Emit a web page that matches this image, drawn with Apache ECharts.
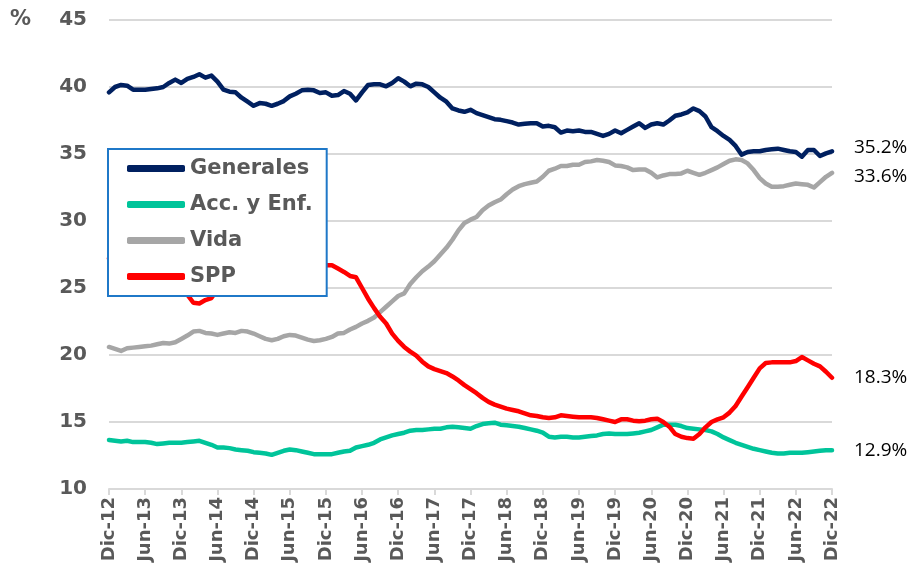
<!DOCTYPE html>
<html>
<head>
<meta charset="utf-8">
<script src="https://cdn.jsdelivr.net/npm/echarts@6/dist/echarts.min.js"></script>
<style>
  html, body { margin: 0; padding: 0; background: #fff; }
  #chart { width: 920px; height: 584px; }
</style>
</head>
<body>
<div id="chart"></div>
<script>
// meses dic-12 .. dic-22
var mesesNombre = ['Ene', 'Feb', 'Mar', 'Abr', 'May', 'Jun', 'Jul', 'Ago', 'Sep', 'Oct', 'Nov', 'Dic']
var yTicks = [10, 15, 20, 25, 30, 35, 40, 45]

var generales = [
  39.6, 40.0, 40.15, 40.1, 39.8, 39.8, 39.8, 39.85, 39.9, 40.0,
  40.3, 40.55, 40.3, 40.6, 40.75, 40.95, 40.7, 40.85, 40.4, 39.8,
  39.65, 39.6, 39.2, 38.9, 38.6, 38.8, 38.75, 38.6, 38.75, 38.95,
  39.3, 39.5, 39.75, 39.8, 39.75, 39.55, 39.6, 39.35, 39.4, 39.7,
  39.5, 39.0, 39.6, 40.15, 40.2, 40.2, 40.05, 40.3, 40.65, 40.4,
  40.05, 40.25, 40.2, 40.0, 39.6, 39.2, 38.9, 38.4, 38.25, 38.15,
  38.3, 38.05, 37.9, 37.75, 37.6, 37.55, 37.45, 37.35, 37.2, 37.25,
  37.3, 37.3, 37.05, 37.1, 37.0, 36.6, 36.75, 36.7, 36.75, 36.65,
  36.65, 36.5, 36.35, 36.5, 36.75, 36.55, 36.8, 37.05, 37.3, 36.95,
  37.2, 37.3, 37.2, 37.5, 37.85, 37.95, 38.1, 38.4, 38.2, 37.8,
  37.0, 36.7, 36.35, 36.05, 35.6, 34.95, 35.15, 35.2, 35.2, 35.3,
  35.35, 35.4, 35.3, 35.2, 35.15, 34.8, 35.3, 35.3, 34.85, 35.05,
  35.2
]
var accEnf = [
  13.65, 13.6, 13.55, 13.6, 13.5, 13.5, 13.5, 13.45, 13.35, 13.4,
  13.45, 13.45, 13.45, 13.5, 13.55, 13.6, 13.45, 13.3, 13.1, 13.1,
  13.05, 12.95, 12.9, 12.85, 12.75, 12.7, 12.65, 12.55, 12.7, 12.85,
  12.95, 12.9, 12.8, 12.7, 12.6, 12.6, 12.6, 12.6, 12.7, 12.8,
  12.85, 13.1, 13.2, 13.3, 13.45, 13.7, 13.85, 14.0, 14.1, 14.2,
  14.35, 14.4, 14.4, 14.45, 14.5, 14.5, 14.6, 14.65, 14.6, 14.55,
  14.5, 14.7, 14.85, 14.9, 14.95, 14.8, 14.75, 14.7, 14.65, 14.55,
  14.45, 14.35, 14.2, 13.9, 13.85, 13.9, 13.9, 13.85, 13.85, 13.9,
  13.95, 14.0, 14.1, 14.15, 14.1, 14.1, 14.1, 14.15, 14.2, 14.3,
  14.4, 14.6, 14.8, 14.8, 14.8, 14.7, 14.55, 14.5, 14.45, 14.4,
  14.3, 14.1, 13.85, 13.65, 13.45, 13.3, 13.15, 13.0, 12.9, 12.8,
  12.7, 12.65, 12.65, 12.7, 12.7, 12.7, 12.75, 12.8, 12.85, 12.9,
  12.9
]
var vida = [
  20.6, 20.45, 20.3, 20.5, 20.55, 20.6, 20.65, 20.7, 20.8, 20.9,
  20.85, 20.95, 21.2, 21.45, 21.75, 21.8, 21.65, 21.6, 21.5, 21.6,
  21.7, 21.65, 21.8, 21.75, 21.6, 21.4, 21.2, 21.1, 21.2, 21.4,
  21.5, 21.45, 21.3, 21.15, 21.05, 21.1, 21.2, 21.35, 21.6, 21.65,
  21.9, 22.1, 22.35, 22.55, 22.8, 23.2, 23.6, 24.0, 24.4, 24.6,
  25.3, 25.8, 26.25, 26.6, 27.0, 27.5, 28.0, 28.6, 29.3, 29.85,
  30.1, 30.3, 30.8, 31.15, 31.4, 31.6, 32.0, 32.35, 32.6, 32.75,
  32.85, 32.95, 33.3, 33.75, 33.9, 34.1, 34.1, 34.2, 34.2, 34.4,
  34.45, 34.55, 34.5, 34.4, 34.15, 34.1, 34.0, 33.8, 33.85, 33.85,
  33.6, 33.25, 33.4, 33.5, 33.5, 33.55, 33.75, 33.6, 33.45, 33.6,
  33.8, 34.0, 34.25, 34.5, 34.6, 34.55, 34.3, 33.8, 33.2, 32.8,
  32.55, 32.55, 32.6, 32.7, 32.8, 32.75, 32.7, 32.5, 32.9, 33.3,
  33.6
]
var spp = [
  27.2, 27.4, 27.5, 27.6, 27.4, 27.3, 27.1, 26.9, 26.6, 26.3,
  25.8, 25.3, 24.8, 24.5, 23.9, 23.85, 24.1, 24.25, 24.9, 25.5,
  26.0, 26.3, 26.5, 26.6, 26.7, 26.8, 26.8, 26.9, 26.9, 26.8,
  26.8, 26.7, 26.7, 26.7, 26.7, 26.7, 26.7, 26.7, 26.45, 26.2,
  25.9, 25.8, 25.0, 24.2, 23.5, 22.85, 22.35, 21.6, 21.05, 20.6,
  20.25, 19.95, 19.5, 19.15, 18.95, 18.8, 18.65, 18.4, 18.1, 17.75,
  17.45, 17.15, 16.8, 16.5, 16.3, 16.15, 16.0, 15.9, 15.8, 15.65,
  15.5, 15.45, 15.35, 15.3, 15.35, 15.5, 15.45, 15.4, 15.35, 15.35,
  15.35, 15.3, 15.2, 15.1, 15.0, 15.2, 15.2, 15.1, 15.05, 15.1,
  15.2, 15.25, 15.0, 14.65, 14.1, 13.9, 13.8, 13.75, 14.1, 14.6,
  15.0, 15.2, 15.35, 15.7, 16.2, 16.9, 17.6, 18.3, 19.0, 19.4,
  19.45, 19.45, 19.45, 19.45, 19.55, 19.85, 19.6, 19.35, 19.15, 18.75,
  18.3
]

var meses = []
for (var k = 0; k < generales.length; k++) {
  var m = (11 + k) % 12
  var y = 12 + Math.floor((11 + k) / 12)
  meses.push(mesesNombre[m] + '-' + y)
}

var chart = echarts.init(document.getElementById('chart'))

var fuerte = 'DejaVu Sans'

function serie(name, data, color, offsetY) {
  return {
    name: name,
    type: 'line',
    data: data,
    symbol: 'none',
    smooth: false,
    lineStyle: { width: 4.5, color: color, cap: 'round', join: 'round' },
    itemStyle: { color: color },
    endLabel: {
      show: true,
      formatter: function (p) { return p.value.toFixed(1) + '%' },
      color: '#000',
      fontSize: 19,
      fontFamily: 'Open Sans',
      distance: 22,
      offset: [0, offsetY]
    }
  }
}

var option = {
  animation: false,
  backgroundColor: '#fff',
  grid: { left: 109, right: 88, top: 20, bottom: 95 },
  graphic: [
    {
      type: 'text',
      left: 10,
      top: 9,
      style: { text: '%', font: 'bold 21px "DejaVu Sans"', fill: '#595959' }
    }
  ],
  legend: {
    orient: 'vertical',
    left: 108,
    top: 149,
    padding: [9, 14, 9, 19],
    itemGap: 15,
    itemWidth: 58,
    itemHeight: 7,
    icon: 'roundRect',
    backgroundColor: '#fff',
    borderColor: '#1f78c8',
    borderWidth: 2,
    borderRadius: 0,
    textStyle: { color: '#595959', fontSize: 21, fontWeight: 'bold', fontFamily: fuerte },
    data: ['Generales', 'Acc. y Enf.', 'Vida', 'SPP']
  },
  xAxis: {
    type: 'category',
    boundaryGap: false,
    data: meses,
    axisLine: { lineStyle: { color: '#d9d9d9', width: 2 } },
    axisTick: { show: true, interval: 5, length: 6, lineStyle: { color: '#d9d9d9', width: 2 } },
    axisLabel: {
      interval: 5,
      rotate: 90,
      color: '#595959',
      fontSize: 18,
      fontWeight: 'bold',
      fontFamily: fuerte,
      margin: 8
    },
    splitLine: { show: false }
  },
  yAxis: {
    type: 'value',
    min: yTicks[0],
    max: yTicks[yTicks.length - 1],
    interval: 5,
    axisLine: { show: false },
    axisTick: { show: false },
    axisLabel: { color: '#595959', fontSize: 20, fontWeight: 'bold', fontFamily: fuerte, margin: 22 },
    splitLine: { lineStyle: { color: '#d9d9d9', width: 2 } }
  },
  series: [
    serie('Vida', vida, '#a6a6a6', 4),
    serie('Acc. y Enf.', accEnf, '#00c49a', 0),
    serie('SPP', spp, '#ff0000', 0),
    serie('Generales', generales, '#002060', -4)
  ]
}
chart.setOption(option)
</script>
</body>
</html>
